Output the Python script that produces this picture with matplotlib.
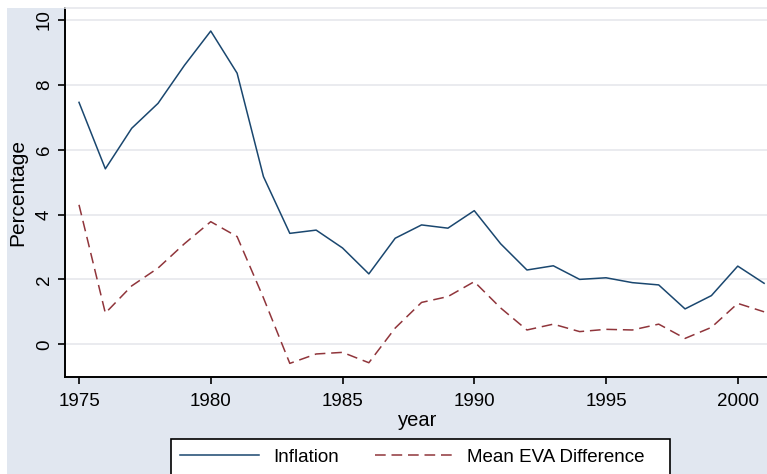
import matplotlib
matplotlib.use("Agg")
import matplotlib.pyplot as plt
from matplotlib.patches import Rectangle

years = list(range(1975, 2002))
inflation = [7.46, 5.41, 6.66, 7.43, 8.6, 9.66, 8.36, 5.17, 3.42, 3.52, 2.97, 2.17,
             3.27, 3.68, 3.58, 4.12, 3.1, 2.29, 2.42, 2.0, 2.05, 1.9, 1.83, 1.09,
             1.5, 2.41, 1.88]
eva_diff = [4.3, 0.96, 1.8, 2.35, 3.1, 3.78, 3.32, 1.43, -0.59, -0.3, -0.25, -0.57,
            0.5, 1.29, 1.47, 1.93, 1.12, 0.44, 0.62, 0.39, 0.46, 0.44, 0.62, 0.18,
            0.52, 1.26, 1.0]
xticks = [1975, 1980, 1985, 1990, 1995, 2000]
yticks = [0, 2, 4, 6, 8, 10]

plt.rcParams['font.family'] = ['Liberation Sans', 'DejaVu Sans']

W, H = 767, 474
fig = plt.figure(figsize=(W / 100, H / 100), dpi=100, facecolor='white')
bg = '#e1e7f0'
fig.patches.append(Rectangle((7 / W, 0), 1 - 7 / W, 1 - 8 / H, transform=fig.transFigure,
                             facecolor=bg, edgecolor='none', zorder=-10))

left_px, right_px, top_px, bot_px = 65.3, 771, 8, 377
ax = fig.add_axes([left_px / W, 1 - bot_px / H, (right_px - left_px) / W, (bot_px - top_px) / H])
ax.set_facecolor('white')

ax.plot(years, inflation, color='#1a476f', lw=1.1, label='Inflation', zorder=3)
ax.plot(years, eva_diff, color='#90353b', lw=1.1, linestyle=(0, (7, 3.8)),
        label='Mean EVA Difference', zorder=3)

ax.set_xlim(1974.48, 1974.48 + (right_px - left_px) / 26.35)
ax.set_ylim(-1.01, 10.37)
ax.set_xticks(xticks)
ax.set_yticks(yticks)
ax.set_yticklabels([str(v) for v in yticks], rotation=90, va='center')
ax.tick_params(axis='both', labelsize=13.5, length=5, width=1.2, color='black', direction='out')
ax.tick_params(axis='y', pad=4)
ax.tick_params(axis='x', pad=6.5)
ax.grid(axis='y', color='#e6e8ec', lw=1.2, zorder=0)
ax.set_axisbelow(True)
ax.spines['right'].set_visible(False)
ax.spines['top'].set_color('#e6e8ec')
ax.spines['top'].set_linewidth(1.2)
for s in ['left', 'bottom']:
    ax.spines[s].set_linewidth(1.4)
    ax.spines[s].set_color('black')

ax.set_xlabel('year', fontsize=14.5, labelpad=1)
ax.set_ylabel('Percentage', fontsize=15, labelpad=6)

# legend frame (Stata-style, wider on the right)
fig.patches.append(Rectangle((171 / W, 1 - 478 / H), (670 - 171) / W, (478 - 439) / H,
                             transform=fig.transFigure, facecolor='white',
                             edgecolor='black', lw=1.2, zorder=-5))
leg = fig.legend(loc='upper left', bbox_to_anchor=(171 / W, 1 - 439 / H), ncol=2,
                 fontsize=13.5, frameon=False,
                 handlelength=4.2, handletextpad=0.75, columnspacing=1.9,
                 borderpad=0.5, borderaxespad=0)

fig.savefig('out.png', dpi=100, facecolor='white')
